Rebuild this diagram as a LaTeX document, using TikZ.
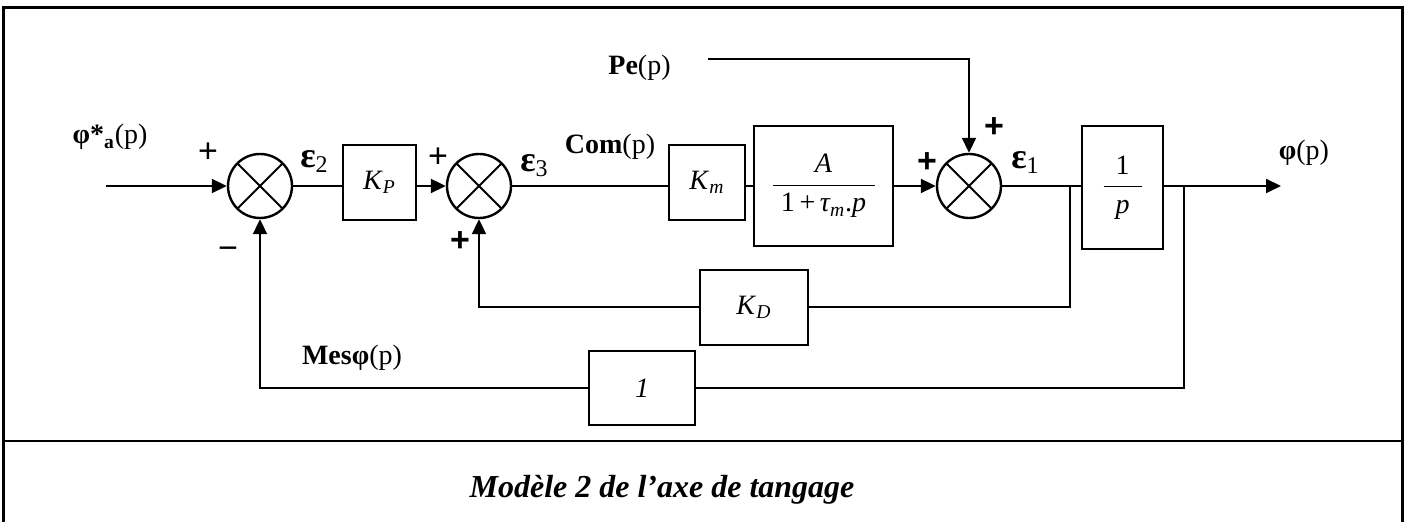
\documentclass[tikz,border=0pt]{standalone}
\usepackage{fontspec}
\setmainfont{Liberation Serif}
\newfontfamily\signfont{Liberation Sans}
\usetikzlibrary{arrows.meta,positioning,calc}

\begin{document}
\begin{tikzpicture}[
    x=0.5pt, y=-0.5pt,
    line width=1pt,
    blk/.style={rectangle, draw, line width=1pt, inner sep=0pt,
                font=\fontsize{14}{16}\selectfont},
    sumnode/.style={circle, draw, line width=1.2pt, minimum size=32pt, inner sep=0pt,
                path picture={\draw[line width=1pt]
                  ($(path picture bounding box.center)+(45:16pt)$) -- ($(path picture bounding box.center)+(225:16pt)$)
                  ($(path picture bounding box.center)+(135:16pt)$) -- ($(path picture bounding box.center)+(315:16pt)$);}},
    lbl/.style={font=\fontsize{14}{16}\selectfont, inner sep=0pt},
    eps/.style={font=\fontsize{18}{20}\selectfont\bfseries, inner sep=0pt},
    sgn/.style={font=\fontsize{17}{18}\signfont, inner sep=0pt},
    sgnb/.style={font=\fontsize{17}{18}\signfont\bfseries, inner sep=0pt},
    arr/.style={-{Triangle[length=7.5pt,width=7pt]}}
]
\useasboundingbox (0,0) rectangle (1409,522);

\draw[line width=1.5pt] (3,522) -- (3,8) -- (1402,8) -- (1402,522);
\draw[line width=1.2pt] (3,441) -- (1402,441);

\node[sumnode] (s1) at (260,186) {};
\node[sumnode] (s2) at (479,186) {};
\node[sumnode] (s3) at (969,186) {};

\node[blk, minimum width=36.5pt, minimum height=37.5pt] (kp) at (379.5,182.5) {\textit{K}\textsubscript{\textit{P}}};
\node[blk, minimum width=38pt, minimum height=37.5pt] (km) at (707,182.5) {\textit{K}\textsubscript{\textit{m}}};
\node[blk, minimum width=69.5pt, minimum height=60pt] (motor) at (823.5,186)
    {\raisebox{3pt}{$\displaystyle\frac{\mbox{\itshape A}}{\makebox[51pt]{1\,+\,\itshape τ\textsubscript{m}\upshape.\itshape p}}$}};
\node[blk, minimum width=40.5pt, minimum height=61.5pt] (integ) at (1122.5,187.5)
    {\raisebox{2pt}{$\displaystyle\frac{\mbox{1}}{\makebox[19pt]{\itshape p}}$}};
\node[blk, minimum width=54pt, minimum height=37.5pt] (kd) at (754,307.5) {\textit{K}\textsubscript{\textit{D}}};
\node[blk, minimum width=53pt, minimum height=37pt, font=\fontsize{14}{16}\selectfont\itshape] (unit) at (642,388) {1};

\coordinate (in) at (106,186);
\coordinate (out) at (1281,186);
\coordinate (pe) at (708,59);
\coordinate (b1) at (1070,186);
\coordinate (b2) at (1184,186);

\draw[arr] (in) -- (s1.west);
\draw (s1.east) -- (s1.east -| kp.west);
\draw[arr] (kp.east |- s2) -- (s2.west);
\draw (s2.east) -- (s2.east -| km.west);
\draw (km.east |- motor) -- (motor.west);
\draw[arr] (motor.east) -- (s3.west);
\draw (s3.east) -- (s3.east -| integ.west);
\draw[arr] (integ.east |- out) -- (out);
\draw[arr] (pe) -| (s3.north);
\draw (b1) |- (kd.east);
\draw[arr] (kd.west) -| (s2.south);
\draw (b2) |- (unit.east);
\draw[arr] (unit.west) -| (s1.south);

\node[lbl] (ref) at (110,137) {\textbf{φ*}\textsubscript{\textbf{a}}(p)};
\node[lbl] (pelbl) at (639.5,68) {\textbf{Pe}(p)};
\node[lbl] (com) at (610,147) {\textbf{Com}(p)};
\node[lbl] (outlbl) at (1304,153) {\textbf{φ}(p)};
\node[lbl] (mes) at (352,358) {\textbf{Mesφ}(p)};
\node[eps] (e2) at (314,162) {ε\raisebox{-0.3ex}{\fontsize{12}{13}\mdseries\selectfont 2}};
\node[eps] (e3) at (534,166) {ε\raisebox{-0.3ex}{\fontsize{12}{13}\mdseries\selectfont 3}};
\node[eps] (e1) at (1025,163) {ε\raisebox{-0.3ex}{\fontsize{12}{13}\mdseries\selectfont 1}};

\node[sgn] (p1) at (208,153) {+};
\node[sgn] (m1) at (228,253) {−};
\node[sgn] (p2) at (438,158) {+};
\node[sgnb] (p3) at (460,242) {+};
\node[sgnb] (p4) at (927,163) {+};
\node[sgnb] (p5) at (994,128) {+};

\node[font=\fontsize{16}{18}\selectfont\bfseries\itshape] (cap) at (662,490) {Modèle 2 de l’axe de tangage};

\end{tikzpicture}
\end{document}
